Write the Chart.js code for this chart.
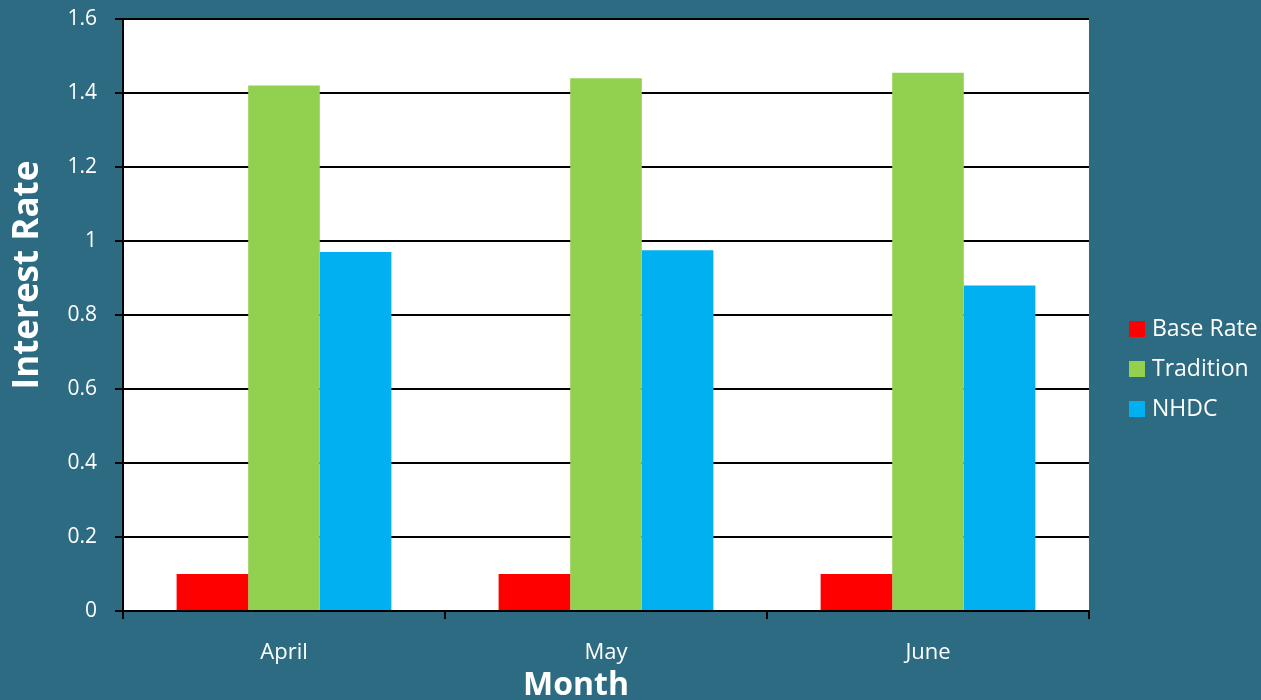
<!DOCTYPE html>
<html>
<head>
<meta charset="utf-8">
<script src="https://cdn.jsdelivr.net/npm/chart.js@4"></script>
<style>
  html, body { margin: 0; padding: 0; background: #2D6B82; }
  #wrap { width: 1261px; height: 700px; }
</style>
</head>
<body>
<div id="wrap"><canvas id="myChart" width="1261" height="700"></canvas></div>
<script>
const months = ['April', 'May', 'June'];
const baseRate = [0.1, 0.1, 0.1];
const tradition = [1.42, 1.44, 1.455];
const nhdc = [0.97, 0.975, 0.88];
const seriesNames = ['Base Rate', 'Tradition', 'NHDC'];
const seriesColors = ['#FF0000', '#92D050', '#00B0F0'];

const FONT = "'Open Sans', sans-serif";

// white plot background
const plotBg = {
  id: 'plotBg',
  beforeDraw: function (chart) {
    const a = chart.chartArea;
    const ctx = chart.ctx;
    ctx.save();
    ctx.fillStyle = '#FFFFFF';
    ctx.fillRect(a.left, a.top, a.right - a.left, a.bottom - a.top);
    ctx.restore();
  }
};

// axis titles and legend on the right
const extras = {
  id: 'extras',
  afterDraw: function (chart) {
    const ctx = chart.ctx;
    ctx.save();
    ctx.fillStyle = '#FFFFFF';
    ctx.textAlign = 'center';
    ctx.textBaseline = 'middle';
    ctx.font = "bold 32px " + FONT;
    ctx.fillText('Month', 576, 686);
    ctx.font = "bold 35px " + FONT;
    ctx.translate(28, 275);
    ctx.rotate(-Math.PI / 2);
    ctx.fillText('Interest Rate', 0, 0);
    ctx.restore();

    ctx.save();
    ctx.font = "23px " + FONT;
    ctx.textBaseline = 'middle';
    ctx.textAlign = 'left';
    chart.data.datasets.forEach(function (ds, i) {
      const y = 329 + i * 40;
      ctx.fillStyle = ds.backgroundColor;
      ctx.fillRect(1129, y - 8, 16, 16);
      ctx.fillStyle = '#FFFFFF';
      ctx.fillText(ds.label, 1152, y);
    });
    ctx.restore();
  }
};

const ctx = document.getElementById('myChart').getContext('2d');
const myChart = new Chart(ctx, {
  type: 'bar',
  data: {
    labels: months,
    datasets: [
      { label: seriesNames[0], data: baseRate, backgroundColor: seriesColors[0] },
      { label: seriesNames[1], data: tradition, backgroundColor: seriesColors[1] },
      { label: seriesNames[2], data: nhdc, backgroundColor: seriesColors[2] }
    ]
  },
  options: {
    responsive: false,
    animation: false,
    layout: { padding: { top: 19, right: 172, left: 0, bottom: 0 } },
    datasets: { bar: { categoryPercentage: 0.667, barPercentage: 1.0 } },
    plugins: {
      legend: { display: false },
      tooltip: { enabled: false }
    },
    scales: {
      x: {
        afterFit: function (scale) { scale.height = 89; scale.paddingLeft = 0; scale.paddingRight = 0; },
        grid: { display: true, drawOnChartArea: false, drawTicks: true, tickLength: 8, color: '#000000', lineWidth: 2, offset: true },
        border: { display: true, color: '#000000', width: 2 },
        ticks: { color: '#FFFFFF', font: { family: FONT, size: 22 }, padding: 21 }
      },
      y: {
        min: 0,
        max: 1.6,
        afterFit: function (scale) { scale.width = 123; scale.paddingTop = 0; scale.paddingBottom = 0; },
        grid: { color: '#000000', lineWidth: 2, tickLength: 8, drawTicks: true },
        border: { display: true, color: '#000000', width: 2 },
        ticks: { stepSize: 0.2, color: '#FFFFFF', font: { family: FONT, size: 21 }, padding: 18,
          callback: function (v) { return Math.round(v * 10) / 10; } }
      }
    }
  },
  plugins: [plotBg, extras]
});
</script>
</body>
</html>
